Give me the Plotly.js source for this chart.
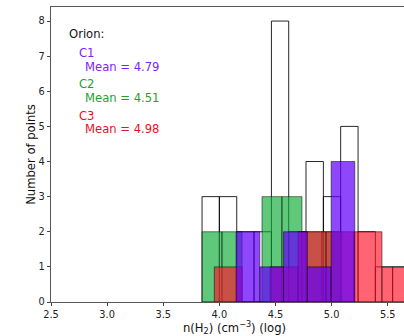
<!DOCTYPE html>
<html><head><meta charset="utf-8">
<script src="https://cdn.plot.ly/plotly-3.0.1.min.js"></script>
<style>html,body{margin:0;padding:0;overflow:hidden;background:#fff;width:404px;height:336px}#plot{width:430px;height:336px}</style>
</head><body><div id="plot"></div>
<script>
// Bin edges (log n(H2)) and counts
const allEdges = [3.846, 4.000, 4.155, 4.309, 4.464, 4.618, 4.772, 4.927, 5.081, 5.236, 5.390, 5.544, 5.699];
const allCounts = [3, 3, 2, 2, 8, 2, 4, 3, 5, 2, 1, 1];
const c2Edges = [3.846, 4.024, 4.202, 4.380, 4.558, 4.736, 4.914, 5.092];
const c2Counts = [2, 2, 0, 3, 3, 2, 2];
const c3Edges = [3.955, 4.204, 4.453, 4.702, 4.951, 5.200, 5.449, 5.699];
const c3Counts = [1, 0, 1, 2, 2, 2, 1];
const c1Edges = [4.149, 4.361, 4.572, 4.784, 4.996, 5.207];
const c1Counts = [2, 1, 2, 1, 4];
const groupNames = ['C1', 'C2', 'C3'];
const groupMeans = [4.79, 4.51, 4.98];
const xTicks = [2.5, 3.0, 3.5, 4.0, 4.5, 5.0, 5.5];
const yTicks = [0, 1, 2, 3, 4, 5, 6, 7, 8];

function bars(edges, counts, fill, line) {
  const x = [], w = [];
  for (let i = 0; i < counts.length; i++) {
    x.push((edges[i] + edges[i + 1]) / 2);
    w.push(edges[i + 1] - edges[i]);
  }
  return {type: 'bar', x: x, y: counts, width: w,
    marker: {color: fill, line: {color: line, width: 1}},
    hoverinfo: 'skip', showlegend: false};
}

const data = [
  bars(allEdges, allCounts, 'rgba(0,0,0,0)', 'rgba(0,0,0,0.85)'),
  bars(c2Edges, c2Counts, 'rgba(10,170,50,0.65)', 'rgba(0,0,0,0.5)'),
  bars(c3Edges, c3Counts, 'rgba(255,17,40,0.65)', 'rgba(0,0,0,0.5)'),
  bars(c1Edges, c1Counts, 'rgba(100,0,250,0.72)', 'rgba(0,0,0,0.5)')
];

const textColors = ['#8022ff', '#1f9f33', '#ea0f22'];
const font = 'DejaVu Sans, sans-serif';
const ann = [{text: 'Orion:', x: 0.043, y: 0.908, xref: 'paper', yref: 'paper',
  xanchor: 'left', yanchor: 'middle', showarrow: false, font: {family: font, size: 11.6, color: '#111'}}];
const yC = [0.845, 0.740, 0.632];
const yM = [0.798, 0.690, 0.585];
for (let i = 0; i < groupNames.length; i++) {
  ann.push({text: groupNames[i], x: 0.071, y: yC[i], xref: 'paper', yref: 'paper',
    xanchor: 'left', yanchor: 'middle', showarrow: false, font: {family: font, size: 11.6, color: textColors[i]}});
  ann.push({text: 'Mean = ' + groupMeans[i].toFixed(2), x: 0.087, y: yM[i], xref: 'paper', yref: 'paper',
    xanchor: 'left', yanchor: 'middle', showarrow: false, font: {family: font, size: 11.6, color: textColors[i]}});
}

const axisCommon = {showline: true, linecolor: '#444', linewidth: 0.9, mirror: true,
  ticks: 'outside', ticklen: 3.5, tickwidth: 0.9, tickcolor: '#333',
  showgrid: false, zeroline: false, tickfont: {family: font, size: 9.8, color: '#222'}};

const layout = {
  width: 430, height: 336,
  margin: {l: 51, r: 12, t: 7, b: 34},
  paper_bgcolor: '#fff', plot_bgcolor: '#fff',
  barmode: 'overlay', bargap: 0,
  xaxis: Object.assign({}, axisCommon, {range: [2.5, 5.77], tickvals: xTicks,
    ticktext: xTicks.map(v => v.toFixed(1)),
    title: {text: 'n(H<sub>2</sub>) (cm<sup>−3</sup>) (log)', font: {family: font, size: 11.6, color: '#111'}, standoff: 4}}),
  yaxis: Object.assign({}, axisCommon, {range: [0, 8.4], tickvals: yTicks,
    title: {text: 'Number of points', font: {family: font, size: 11.6, color: '#111'}, standoff: 0}}),
  annotations: ann
};

Plotly.newPlot('plot', data, layout, {displayModeBar: false, staticPlot: true});
</script></body></html>
